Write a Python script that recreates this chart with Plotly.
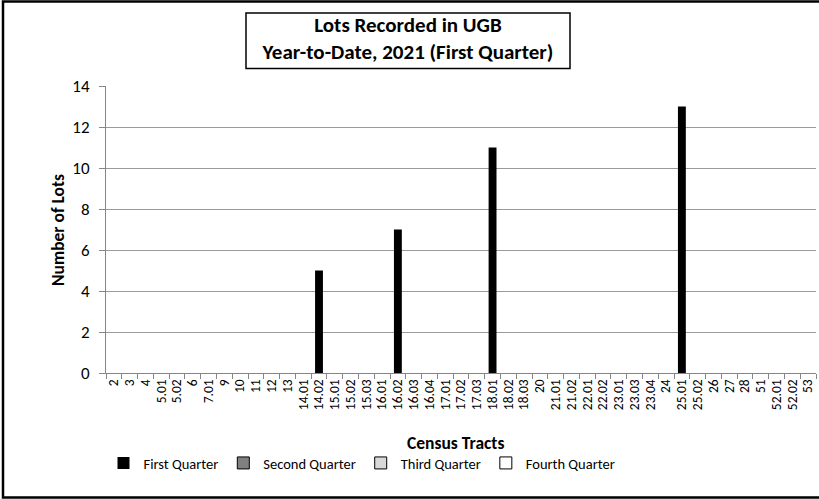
import plotly.graph_objects as go

tracts = ["2", "3", "4", "5.01", "5.02", "6", "7.01", "9", "10", "11", "12", "13",
          "14.01", "14.02", "15.01", "15.02", "15.03", "16.01", "16.02", "16.03", "16.04",
          "17.01", "17.02", "17.03", "18.01", "18.02", "18.03", "20", "21.01", "21.02",
          "22.01", "22.02", "23.01", "23.03", "23.04", "24", "25.01", "25.02", "26", "27",
          "28", "51", "52.01", "52.02", "53"]
first_q = {"14.02": 5, "16.02": 7, "18.01": 11, "25.01": 13}
first_quarter = [first_q.get(t, 0) for t in tracts]
second_quarter = [None] * len(tracts)
third_quarter = [None] * len(tracts)
fourth_quarter = [None] * len(tracts)

series = [
    ("First Quarter", first_quarter, "#000000", 0),
    ("Second Quarter", second_quarter, "#808080", 1),
    ("Third Quarter", third_quarter, "#d9d9d9", 1),
    ("Fourth Quarter", fourth_quarter, "#ffffff", 1),
]

FONT = "Carlito, Calibri, Lato, sans-serif"
W, H = 819, 499
L, R, T, B = 106, 816, 86, 373
pw, ph = R - L, B - T

def px(X):
    return (X - L) / pw

def py(Y):
    return (B - Y) / ph

fig = go.Figure()
for name, vals, col, lw in series:
    fig.add_trace(go.Bar(
        x=tracts, y=vals, name=name, width=0.5,
        marker=dict(color=col, line=dict(color="#000000", width=lw)),
    ))

fig.update_layout(
    width=W, height=H,
    margin=dict(l=L, r=W - R, t=T, b=H - B, autoexpand=False),
    barmode="overlay",
    plot_bgcolor="white", paper_bgcolor="white",
    font=dict(family=FONT, color="#000000"),
    title=dict(
        text="<b>Lots Recorded in UGB<br>Year-to-Date, 2021 (First Quarter)</b>",
        x=px(408), xref="paper", xanchor="center",
        y=1 - 32 / H, yref="container", yanchor="middle",
        font=dict(size=21, family=FONT, color="#000000"),
    ),
    legend=dict(
        orientation="h", x=px(362), xanchor="center", y=py(463), yanchor="middle",
        font=dict(size=14.5, family=FONT), traceorder="normal",
        itemwidth=30, tracegroupgap=0,
    ),
    showlegend=True,
)

fig.update_xaxes(
    type="category", tickmode="linear", dtick=1, tickangle=-90,
    tickfont=dict(size=13.5, family=FONT),
    ticks="outside", tickson="boundaries", ticklen=5, tickcolor="#868686",
    showline=True, linecolor="#868686", linewidth=1, showgrid=False,
    automargin=False,
)
fig.update_yaxes(
    range=[0, 14], dtick=2, tickfont=dict(size=17, family=FONT),
    ticks="outside", ticklen=6, tickcolor="#868686", ticklabelstandoff=6,
    showline=True, linecolor="#868686", linewidth=1,
    showgrid=True, gridcolor="#9a9a9a", gridwidth=1, zeroline=False,
    automargin=False,
)

fig.add_annotation(text="<b>Census Tracts</b>", xref="paper", yref="paper",
                   x=px(455), y=py(443), xanchor="center", yanchor="middle",
                   showarrow=False, font=dict(size=17.5, family=FONT))
fig.add_annotation(text="<b>Number of Lots</b>", xref="paper", yref="paper",
                   x=px(58), y=py(230), xanchor="center", yanchor="middle",
                   showarrow=False, textangle=-90,
                   font=dict(size=17.5, family=FONT))

# title box
fig.add_shape(type="rect", xref="paper", yref="paper",
              x0=px(246), x1=px(570), y0=py(68.5), y1=py(13),
              line=dict(color="#000000", width=1.5), fillcolor="rgba(0,0,0,0)")
# outer chart border
fig.add_shape(type="rect", xref="paper", yref="paper",
              x0=px(3), x1=px(840), y0=py(497.5), y1=py(1.5),
              line=dict(color="#000000", width=2.5), fillcolor="rgba(0,0,0,0)")

fig.write_html("out.html", config={"displayModeBar": False},
               post_script="document.body.style.margin='0';document.body.style.overflow='hidden';")
